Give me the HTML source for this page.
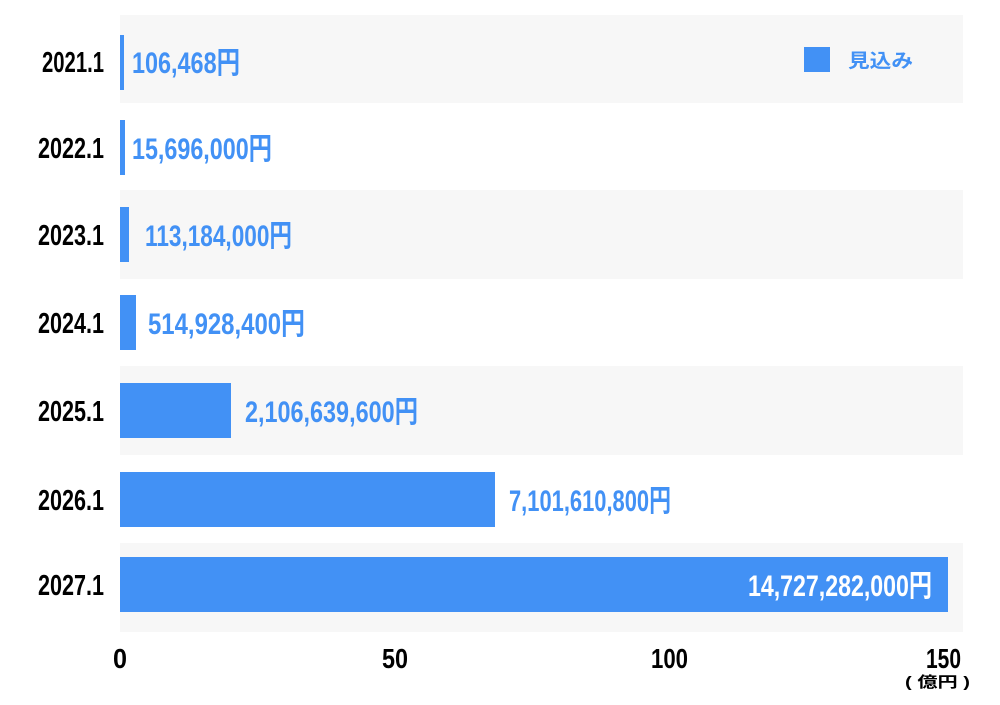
<!DOCTYPE html>
<html><head><meta charset="utf-8"><style>
html,body{margin:0;padding:0;background:#fff;}
svg{display:block;}
text{font-family:"Liberation Sans","Noto Sans CJK JP",sans-serif;font-weight:bold;}
</style></head><body>
<svg width="1000" height="705" viewBox="0 0 1000 705" xmlns="http://www.w3.org/2000/svg">
<rect x="120" y="15" width="843" height="88" fill="#f7f7f7"/>
<rect x="120" y="190" width="843" height="89" fill="#f7f7f7"/>
<rect x="120" y="366" width="843" height="89" fill="#f7f7f7"/>
<rect x="120" y="543" width="843" height="89" fill="#f7f7f7"/>
<g fill="#4291f5">
<rect x="120" y="35" width="4" height="55"/>
<rect x="120" y="120" width="5" height="55"/>
<rect x="120" y="207" width="9" height="55"/>
<rect x="120" y="295" width="16" height="55"/>
<rect x="120" y="383" width="111" height="55"/>
<rect x="120" y="472" width="375" height="55"/>
<rect x="120" y="557" width="828" height="55"/>
<rect x="804" y="47" width="26" height="25"/>
</g>
<g font-size="29" fill="#000">
<text x="42" y="72" textLength="62" lengthAdjust="spacingAndGlyphs">2021.1</text>
<text x="38" y="158" textLength="66" lengthAdjust="spacingAndGlyphs">2022.1</text>
<text x="38" y="245" textLength="66" lengthAdjust="spacingAndGlyphs">2023.1</text>
<text x="38" y="333" textLength="66" lengthAdjust="spacingAndGlyphs">2024.1</text>
<text x="38" y="421" textLength="66" lengthAdjust="spacingAndGlyphs">2025.1</text>
<text x="38" y="510" textLength="66" lengthAdjust="spacingAndGlyphs">2026.1</text>
<text x="38" y="595" textLength="66" lengthAdjust="spacingAndGlyphs">2027.1</text>
</g>
<g font-size="30" fill="#4291f5">
<text x="132" y="73" textLength="108" lengthAdjust="spacingAndGlyphs">106,468円</text>
<text x="132" y="159" textLength="140" lengthAdjust="spacingAndGlyphs">15,696,000円</text>
<text x="145" y="246" textLength="147" lengthAdjust="spacingAndGlyphs">113,184,000円</text>
<text x="148" y="334" textLength="157" lengthAdjust="spacingAndGlyphs">514,928,400円</text>
<text x="245" y="422" textLength="173" lengthAdjust="spacingAndGlyphs">2,106,639,600円</text>
<text x="509" y="511" textLength="162" lengthAdjust="spacingAndGlyphs">7,101,610,800円</text>
<text x="748" y="596" textLength="184" lengthAdjust="spacingAndGlyphs" fill="#fff">14,727,282,000円</text>
</g>
<text x="848" y="67" font-size="19" font-weight="normal" fill="#4291f5" textLength="65" lengthAdjust="spacingAndGlyphs">見込み</text>
<g font-size="28" fill="#000">
<text x="113" y="668" textLength="14" lengthAdjust="spacingAndGlyphs">0</text>
<text x="382" y="668" textLength="26" lengthAdjust="spacingAndGlyphs">50</text>
<text x="651" y="668" textLength="37" lengthAdjust="spacingAndGlyphs">100</text>
<text x="926" y="668" textLength="35" lengthAdjust="spacingAndGlyphs">150</text>
</g>
<text x="905" y="687" font-size="15" fill="#000" textLength="65" lengthAdjust="spacingAndGlyphs">( 億円 )</text>
</svg>
</body></html>
